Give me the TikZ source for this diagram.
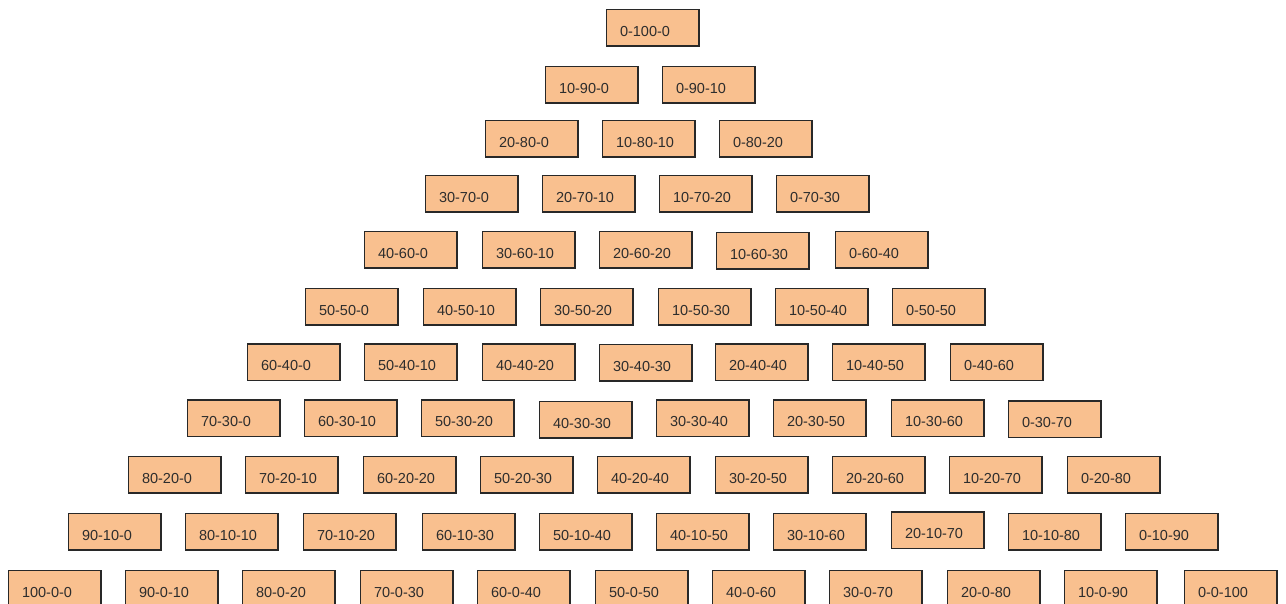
\documentclass[tikz,border=0pt]{standalone}
\usepackage{fontspec}
\setmainfont{Liberation Sans}
\definecolor{boxfill}{RGB}{249,192,143}
\definecolor{boxline}{RGB}{40,40,40}
\definecolor{txtcol}{RGB}{45,45,45}
\tikzset{
  cell/.style={draw=boxline, fill=boxfill, line width=1.6pt, minimum width=92.2pt, minimum height=36.2pt, inner sep=0pt, anchor=north west},
  celltext/.style={anchor=base west, inner sep=0pt, text=txtcol, font=\fontsize{14.5}{17}\selectfont}
}
\newcommand\cellbox[4]{%
  \node[cell] (#1) at (#2+0.8,-#3-0.8) {};
  \node[celltext] (#1-t) at ([xshift=14pt,yshift=-27.6pt]#1.north west) {#4};
}
\begin{document}
\begin{tikzpicture}[x=1pt,y=1pt]
\useasboundingbox (0,0) rectangle (1286,-604);
\clip (0,0) rectangle (1286,-604);
% row 0
\cellbox{a0}{605}{8}{0-100-0}
% row 1
\cellbox{b0}{544}{65}{10-90-0}
\cellbox{b1}{661}{65}{0-90-10}
% row 2
\cellbox{c0}{484}{119}{20-80-0}
\cellbox{c1}{601}{119}{10-80-10}
\cellbox{c2}{718}{119}{0-80-20}
% row 3
\cellbox{d0}{424}{174}{30-70-0}
\cellbox{d1}{541}{174}{20-70-10}
\cellbox{d2}{658}{174}{10-70-20}
\cellbox{d3}{775}{174}{0-70-30}
% row 4
\cellbox{e0}{363}{230}{40-60-0}
\cellbox{e1}{481}{230}{30-60-10}
\cellbox{e2}{598}{230}{20-60-20}
\cellbox{e3}{715}{231}{10-60-30}
\cellbox{e4}{834}{230}{0-60-40}
% row 5
\cellbox{f0}{304}{287}{50-50-0}
\cellbox{f1}{422}{287}{40-50-10}
\cellbox{f2}{539}{287}{30-50-20}
\cellbox{f3}{657}{287}{10-50-30}
\cellbox{f4}{774}{287}{10-50-40}
\cellbox{f5}{891}{287}{0-50-50}
% row 6
\cellbox{g0}{246}{342.5}{60-40-0}
\cellbox{g1}{363}{342.5}{50-40-10}
\cellbox{g2}{481}{342.5}{40-40-20}
\cellbox{g3}{598}{343}{30-40-30}
\cellbox{g4}{714}{342.5}{20-40-40}
\cellbox{g5}{831}{342.5}{10-40-50}
\cellbox{g6}{949}{342.5}{0-40-60}
% row 7
\cellbox{h0}{186}{398.5}{70-30-0}
\cellbox{h1}{303}{398.5}{60-30-10}
\cellbox{h2}{420}{398.5}{50-30-20}
\cellbox{h3}{538}{400}{40-30-30}
\cellbox{h4}{655}{398.5}{30-30-40}
\cellbox{h5}{772}{398.5}{20-30-50}
\cellbox{h6}{890}{398.5}{10-30-60}
\cellbox{h7}{1007}{399.5}{0-30-70}
% row 8
\cellbox{i0}{127}{455}{80-20-0}
\cellbox{i1}{244}{455}{70-20-10}
\cellbox{i2}{362}{455}{60-20-20}
\cellbox{i3}{479}{455}{50-20-30}
\cellbox{i4}{596}{455}{40-20-40}
\cellbox{i5}{714}{455}{30-20-50}
\cellbox{i6}{831}{455}{20-20-60}
\cellbox{i7}{948}{455}{10-20-70}
\cellbox{i8}{1066}{455}{0-20-80}
% row 9
\cellbox{j0}{67}{512}{90-10-0}
\cellbox{j1}{184}{512}{80-10-10}
\cellbox{j2}{302}{512}{70-10-20}
\cellbox{j3}{421}{512}{60-10-30}
\cellbox{j4}{538}{512}{50-10-40}
\cellbox{j5}{655}{512}{40-10-50}
\cellbox{j6}{772}{512}{30-10-60}
\cellbox{j7}{890}{510.5}{20-10-70}
\cellbox{j8}{1007}{512}{10-10-80}
\cellbox{j9}{1124}{512}{0-10-90}
% row 10
\cellbox{k0}{7}{569}{100-0-0}
\cellbox{k1}{124}{569}{90-0-10}
\cellbox{k2}{241}{569}{80-0-20}
\cellbox{k3}{359}{569}{70-0-30}
\cellbox{k4}{476}{569}{60-0-40}
\cellbox{k5}{594}{569}{50-0-50}
\cellbox{k6}{711}{569}{40-0-60}
\cellbox{k7}{828}{569}{30-0-70}
\cellbox{k8}{946}{569}{20-0-80}
\cellbox{k9}{1063}{569}{10-0-90}
\cellbox{k10}{1183}{569}{0-0-100}
\end{tikzpicture}
\end{document}
